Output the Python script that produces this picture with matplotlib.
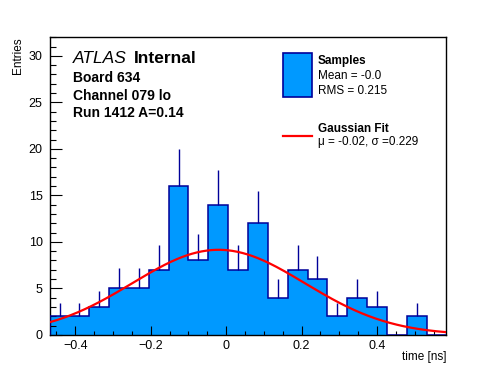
import numpy as np
from matplotlib import pyplot as plt
from matplotlib.patches import Rectangle
from matplotlib.ticker import MultipleLocator, FuncFormatter

# histogram of sample times (20 bins spanning the axis)
X_MIN, X_MAX = -0.468, 0.584
counts = [2, 2, 3, 5, 5, 7, 16, 8, 14, 7, 12, 4, 7, 6, 2, 4, 3, 0, 2, 0]

# gaussian fit parameters
fitMean = -0.02
fitSigma = 0.229
fitAmp = 9.14

sampleMean = "-0.0"
sampleRms = "0.215"

infoLines = ["Board 634", "Channel 079 lo", "Run 1412 A=0.14"]

FILL = "#0099ff"
EDGE = "#000099"

plt.rcParams['font.family'] = ['Liberation Sans', 'DejaVu Sans']

def TickFmt(v, pos):
    s = "%g" % round(v, 6)
    if s == "-0":
        s = "0"
    return s.replace("-", "\u2212")

fig = plt.figure(figsize=(4.96, 3.72), dpi=100)
ax = fig.add_axes([0.1, 0.1, 0.8, 0.8])

edges = np.linspace(X_MIN, X_MAX, len(counts) + 1)
centers = 0.5 * (edges[:-1] + edges[1:])
counts = np.array(counts, dtype=float)

# errors drawn only above the bar, as in the original
hasEntries = counts > 0
ax.vlines(centers[hasEntries], counts[hasEntries],
          counts[hasEntries] + np.sqrt(counts[hasEntries]), color=EDGE, lw=1.0, zorder=2)
ax.stairs(counts, edges, fill=True, color=FILL, zorder=1)
ax.stairs(counts, edges, color=EDGE, lw=1.1, baseline=0, zorder=3)

xs = np.linspace(X_MIN, X_MAX, 400)
ax.plot(xs, fitAmp * np.exp(-0.5 * ((xs - fitMean) / fitSigma) ** 2), color="red", lw=1.6, zorder=4)

ax.set_xlim(X_MIN, X_MAX)
ax.set_ylim(0, 32)
ax.xaxis.set_major_locator(MultipleLocator(0.2))
ax.xaxis.set_minor_locator(MultipleLocator(0.05))
ax.yaxis.set_major_locator(MultipleLocator(5))
ax.yaxis.set_minor_locator(MultipleLocator(1))
ax.xaxis.set_major_formatter(FuncFormatter(TickFmt))
ax.yaxis.set_major_formatter(FuncFormatter(TickFmt))
ax.tick_params(axis="x", which="major", direction="in", length=6.5, width=0.8, labelsize=9, pad=4)
ax.tick_params(axis="x", which="minor", direction="in", length=3.2, width=0.8)
ax.tick_params(axis="y", which="major", direction="in", length=8.6, width=0.8, labelsize=9, pad=5)
ax.tick_params(axis="y", which="minor", direction="in", length=4.3, width=0.8)
for s in ax.spines.values():
    s.set_linewidth(1.0)

ax.set_xlabel("time [ns]", fontsize=8.5, loc="right", labelpad=-1)
ax.set_ylabel("Entries", fontsize=8.5, loc="top", labelpad=3)

# ATLAS label and run info
ax.text(0.058, 0.914, "ATLAS", transform=ax.transAxes, fontsize=12.5, style="italic", va="baseline")
ax.text(0.212, 0.914, "Internal", transform=ax.transAxes, fontsize=12.5, weight="bold", va="baseline")
for i, line in enumerate(infoLines):
    ax.text(0.058, 0.850 - i * 0.0595, line, transform=ax.transAxes, fontsize=10, weight="bold", va="baseline")

# legend
ax.add_patch(Rectangle((0.589, 0.800), 0.072, 0.146, transform=ax.transAxes,
                       facecolor=FILL, edgecolor=EDGE, lw=1.2, zorder=5))
ax.plot([0.589, 0.661], [0.668, 0.668], transform=ax.transAxes, color="red", lw=1.6, zorder=5)
ax.text(0.676, 0.910, "Samples", transform=ax.transAxes, fontsize=8.5, weight="bold", va="baseline")
ax.text(0.676, 0.858, "Mean = " + sampleMean, transform=ax.transAxes, fontsize=8.5, va="baseline")
ax.text(0.676, 0.809, "RMS = " + sampleRms, transform=ax.transAxes, fontsize=8.5, va="baseline")
ax.text(0.676, 0.682, "Gaussian Fit", transform=ax.transAxes, fontsize=8.5, weight="bold", va="baseline")
ax.text(0.676, 0.638, "\u03bc = %.2f, \u03c3 =%.3f" % (fitMean, fitSigma),
        transform=ax.transAxes, fontsize=8.5, va="baseline")

fig.savefig("out.png", dpi=100)
